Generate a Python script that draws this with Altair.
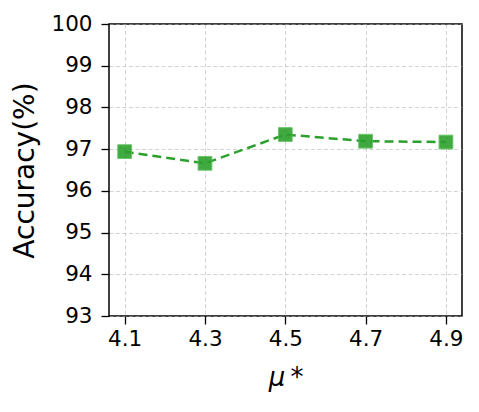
import altair as alt
import pandas as pd

mu = [4.1, 4.3, 4.5, 4.7, 4.9]
acc = [96.94, 96.66, 97.35, 97.19, 97.17]
x_ticks = [4.1, 4.3, 4.5, 4.7, 4.9]
y_ticks = [93, 94, 95, 96, 97, 98, 99, 100]

df = pd.DataFrame({"mu": mu, "acc": acc})

x = alt.X("mu:Q",
          scale=alt.Scale(domain=[4.061, 4.94], nice=False, zero=False),
          axis=alt.Axis(values=x_ticks, format=".1f", title="μ\u2009*",
                        titleFontStyle="italic", titleFontWeight="normal",
                        titleFontSize=26, titlePadding=15, labelPadding=4))
y = alt.Y("acc:Q",
          scale=alt.Scale(domain=[93, 100], nice=False, zero=False),
          axis=alt.Axis(values=y_ticks, format="d", title="Accuracy(%)",
                        titleFontWeight="normal", titleFontSize=28,
                        titlePadding=11, labelPadding=9))

base = alt.Chart(df).encode(x=x, y=y)
line = base.mark_line(color="#2ca02c", strokeWidth=2.5, strokeDash=[9, 5])
pts = base.mark_point(shape="square", filled=True, size=190, color="#2ca02c",
                      opacity=0.9, stroke="#5cbf5c", strokeWidth=1)

chart = (line + pts).properties(
    width=353, height=292,
    autosize=alt.AutoSizeParams(type="none"),
    padding={"left": 101, "top": 16, "right": 9, "bottom": 80},
).configure_view(
    stroke="black", strokeWidth=1.5
).configure_axis(
    labelFont="DejaVu Sans", titleFont="DejaVu Sans",
    labelFontSize=21.5, labelColor="black", titleColor="black",
    domain=False, tickColor="black", tickSize=8, tickWidth=1.3,
    grid=True, gridColor="#b0b0b0", gridDash=[4, 2.5], gridWidth=0.8,
    gridOpacity=0.7,
)

chart.save("out.html", embed_options={"renderer": "svg", "actions": False})
